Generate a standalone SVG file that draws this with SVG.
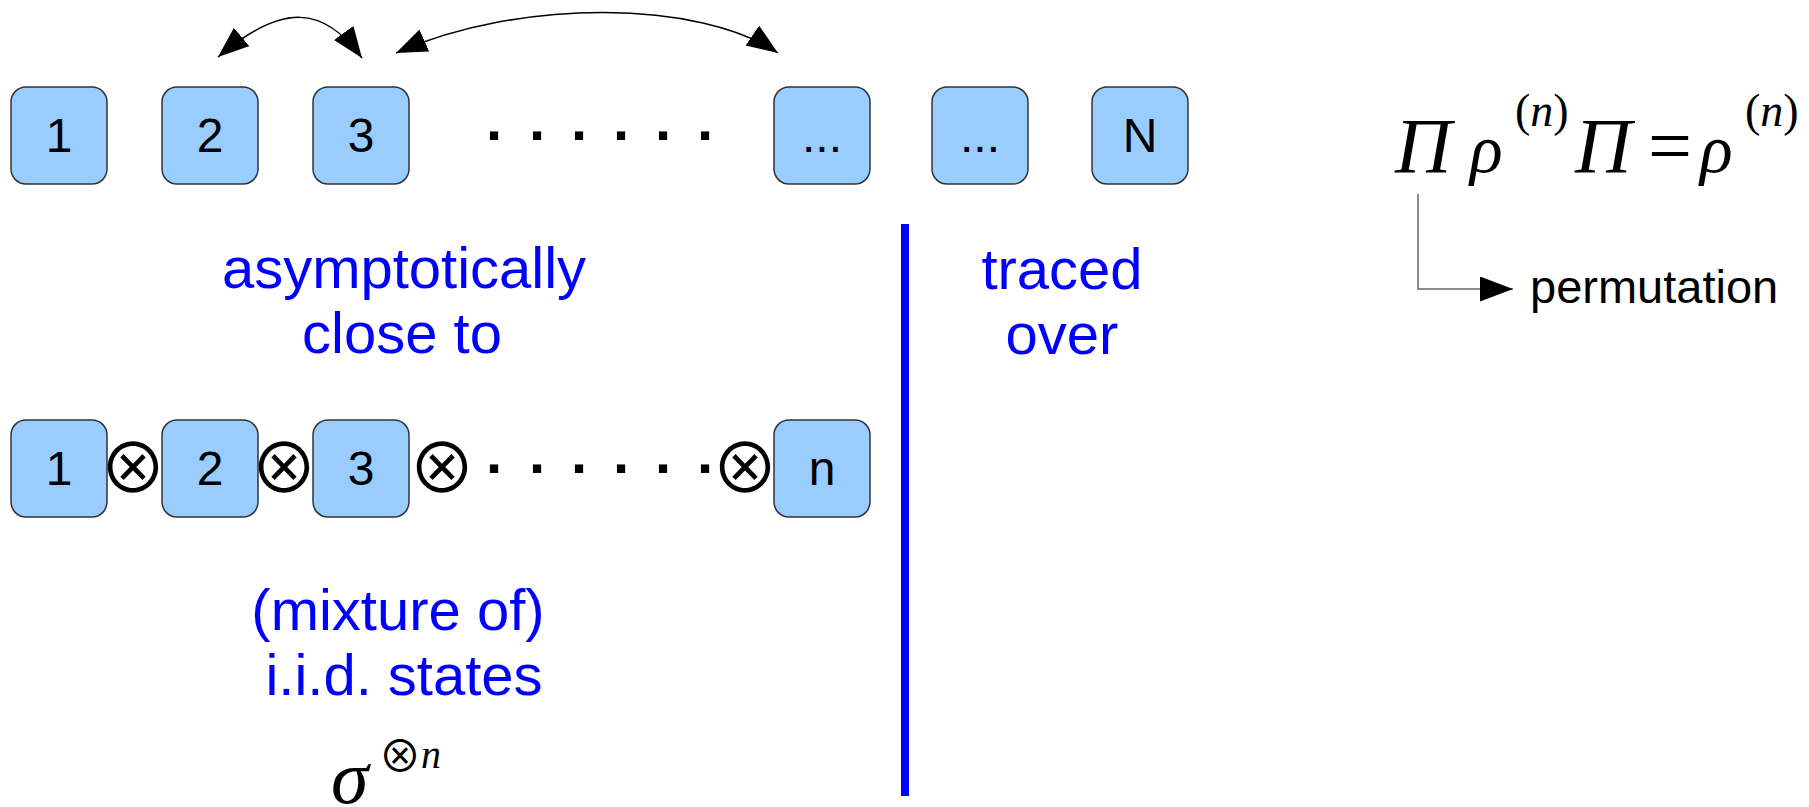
<svg xmlns="http://www.w3.org/2000/svg" width="1809" height="807" viewBox="0 0 1809 807">
<style>
.box{fill:#99ccff;stroke:#333333;stroke-width:1.5}
.num{font-family:"Liberation Sans",Arial,sans-serif;font-size:48px;fill:#000;text-anchor:middle}
.lbl{font-family:"Liberation Sans",Arial,sans-serif;font-size:58px;fill:#0000ff;text-anchor:middle}
.dots{font-family:"Liberation Sans",Arial,sans-serif;font-size:58px;font-weight:bold;fill:#000;text-anchor:middle}
.otimes{font-family:"Noto Sans CJK JP","DejaVu Sans",sans-serif;font-size:68px;fill:#000;text-anchor:middle}
.math{font-family:"Liberation Serif","Times New Roman",serif;font-style:italic;fill:#000}
.up{font-style:normal}
.arc{fill:none;stroke:#000;stroke-width:1.5}
</style>
<defs>
<marker id="ah" markerUnits="userSpaceOnUse" markerWidth="32" markerHeight="26" refX="31" refY="12" orient="auto-start-reverse">
<path d="M0,0 L31,12 L0,24 z" fill="#000"/>
</marker>
<marker id="ah2" markerUnits="userSpaceOnUse" markerWidth="34" markerHeight="26" refX="33" refY="12.5" orient="auto">
<path d="M0,0 L33,12.5 L0,25 z" fill="#000"/>
</marker>
</defs>
<rect width="1809" height="807" fill="#ffffff"/>

<g id="top-1"><rect class="box" x="11" y="87" width="96" height="97" rx="15"/><text class="num" x="59" y="152">1</text></g>
<g id="top-2"><rect class="box" x="162" y="87" width="96" height="97" rx="15"/><text class="num" x="210" y="152">2</text></g>
<g id="top-3"><rect class="box" x="313" y="87" width="96" height="97" rx="15"/><text class="num" x="361" y="152">3</text></g>
<g id="top-dots"><text class="dots" x="494 537 579 621 663 705" y="140">......</text></g>
<g id="top-4"><rect class="box" x="774" y="87" width="96" height="97" rx="15"/><text class="num" x="822" y="152">...</text></g>
<g id="top-5"><rect class="box" x="932" y="87" width="96" height="97" rx="15"/><text class="num" x="980" y="152">...</text></g>
<g id="top-N"><rect class="box" x="1092" y="87" width="96" height="97" rx="15"/><text class="num" x="1140" y="152">N</text></g>

<g id="bot-1"><rect class="box" x="11" y="420" width="96" height="97" rx="15"/><text class="num" x="59" y="485">1</text></g>
<g id="bot-2"><rect class="box" x="162" y="420" width="96" height="97" rx="15"/><text class="num" x="210" y="485">2</text></g>
<g id="bot-3"><rect class="box" x="313" y="420" width="96" height="97" rx="15"/><text class="num" x="361" y="485">3</text></g>
<g id="bot-n"><rect class="box" x="774" y="420" width="96" height="97" rx="15"/><text class="num" x="822" y="485">n</text></g>
<g id="bot-ops">
<text class="otimes" x="133" y="493">⊗</text>
<text class="otimes" x="284" y="493">⊗</text>
<text class="otimes" x="442" y="493">⊗</text>
<text class="otimes" x="745" y="493">⊗</text>
<text class="dots" x="494 537 579 621 663 705" y="473">......</text>
</g>

<g id="label-asym"><text class="lbl"><tspan x="404" y="288">asymptotically</tspan><tspan x="402" y="353">close to</tspan></text></g>
<g id="label-traced"><text class="lbl"><tspan x="1062" y="289">traced</tspan><tspan x="1062" y="354">over</tspan></text></g>
<g id="label-iid"><text class="lbl"><tspan x="398" y="630">(mixture of)</tspan><tspan x="404" y="695">i.i.d. states</tspan></text></g>

<g id="divider"><rect x="901" y="224" width="8" height="572" fill="#0000ff"/></g>

<g id="sigma">
<text class="math" x="331" y="803" font-size="76">σ</text>
<text class="otimes" x="400" y="772" style="font-size:43px">⊗</text>
<text class="math" x="421" y="768" font-size="40">n</text>
</g>

<g id="formula">
<text class="math" x="1395" y="172" font-size="78">Π</text>
<text class="math" x="1470" y="172" font-size="68">ρ</text>
<text class="math" x="1515" y="126" font-size="46"><tspan class="up">(</tspan>n<tspan class="up">)</tspan></text>
<text class="math" x="1575" y="172" font-size="78">Π</text>
<text class="math up" x="1648" y="172" font-size="78" style="font-style:normal">=</text>
<text class="math" x="1700" y="172" font-size="68">ρ</text>
<text class="math" x="1745" y="126" font-size="46"><tspan class="up">(</tspan>n<tspan class="up">)</tspan></text>
</g>

<g id="permutation"><text x="1530" y="303" font-family="Liberation Sans, Arial, sans-serif" font-size="47" fill="#000">permutation</text></g>

<g id="connectors">
<path class="arc" d="M218,57 C283,2 324,6 362,58" marker-start="url(#ah)" marker-end="url(#ah)"/>
<path class="arc" d="M396,53 C520,-2 700,0 778,53" marker-start="url(#ah)" marker-end="url(#ah)"/>
<path d="M1418,194 L1418,289 L1513,289" fill="none" stroke="#666666" stroke-width="1.5" marker-end="url(#ah2)"/>
</g>
</svg>
